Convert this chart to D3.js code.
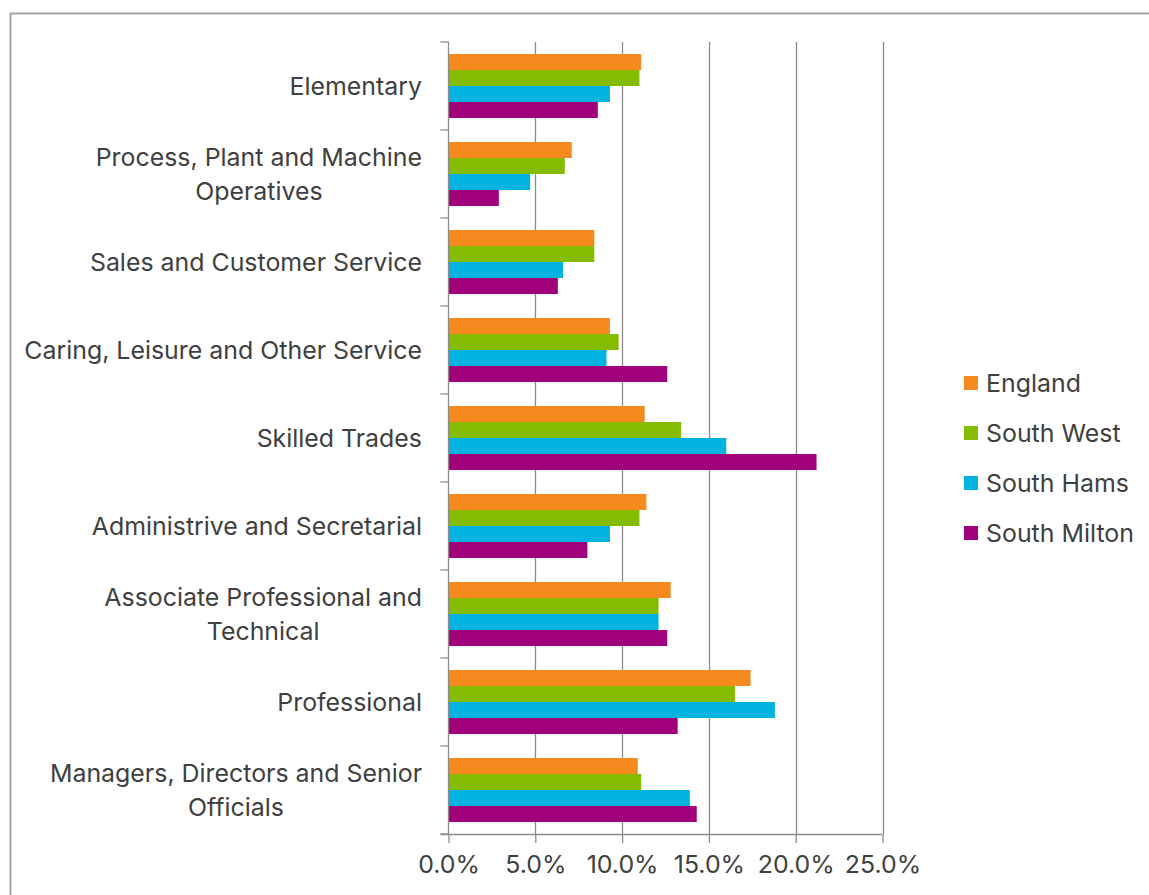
<!DOCTYPE html>
<html>
<head>
<meta charset="utf-8">
<script src="https://cdn.jsdelivr.net/npm/d3@7"></script>
<style>
  html, body { margin: 0; padding: 0; background: #fff; }
  svg { display: block; }
  text { font-family: "Inter", "Open Sans", sans-serif; fill: #404040; font-weight: 400; }
</style>
</head>
<body>
<svg id="chart" width="1149" height="895"></svg>
<script>
const categories = [
  "Elementary",
  "Process, Plant and Machine Operatives",
  "Sales and Customer Service",
  "Caring, Leisure and Other Service",
  "Skilled Trades",
  "Administrive and Secretarial",
  "Associate Professional and Technical",
  "Professional",
  "Managers, Directors and Senior Officials"
];
const categoryLabelLines = [
  ["Elementary"],
  ["Process, Plant and Machine", "Operatives"],
  ["Sales and Customer Service"],
  ["Caring, Leisure and Other Service"],
  ["Skilled Trades"],
  ["Administrive and Secretarial"],
  ["Associate Professional and", "Technical"],
  ["Professional"],
  ["Managers, Directors and Senior", "Officials"]
];
const seriesNames = ["England", "South West", "South Hams", "South Milton"];
const england     = [11.1, 7.1, 8.4, 9.3, 11.3, 11.4, 12.8, 17.4, 10.9];
const southWest   = [11.0, 6.7, 8.4, 9.8, 13.4, 11.0, 12.1, 16.5, 11.1];
const southHams   = [9.3, 4.7, 6.6, 9.1, 16.0, 9.3, 12.1, 18.8, 13.9];
const southMilton = [8.6, 2.9, 6.3, 12.6, 21.2, 8.0, 12.6, 13.2, 14.3];
const xTicks = [0, 5, 10, 15, 20, 25];
const colors = ["#F58A1F", "#86BC00", "#00B3E0", "#A0007A"];

const seriesValues = [england, southWest, southHams, southMilton];

const svg = d3.select("#chart");
const plotLeft = 448.5, plotRight = 882.5, plotTop = 42, plotBottom = 834;

// fit font size so the widest label line matches the reference width
const probe = svg.append("text").attr("font-size", 20).text("Managers, Directors and Senior");
const fontSize = Math.round(20 * 372 / probe.node().getComputedTextLength() * 10) / 10;
probe.remove();

// frame
svg.append("rect").attr("x", 10.5).attr("y", 13.5).attr("width", 1200).attr("height", 1000)
  .attr("fill", "none").attr("stroke", "#a6a6a6").attr("stroke-width", 2);

const x = d3.scaleLinear().domain([0, 25]).range([plotLeft, plotRight]);
const y = d3.scaleBand().domain(categories).range([plotTop, plotBottom]).paddingInner(0).paddingOuter(0);
const inner = d3.scaleBand().domain(seriesNames).range([0, y.bandwidth()]).paddingInner(0).paddingOuter(0.75);

// gridlines
svg.append("g").selectAll("line").data(xTicks.filter(d => d > 0)).join("line")
  .attr("x1", d => Math.round(x(d)) + 0.5).attr("x2", d => Math.round(x(d)) + 0.5)
  .attr("y1", plotTop).attr("y2", plotBottom)
  .attr("stroke", "#8c8c8c").attr("stroke-width", 1.3);

// bars
const groups = svg.append("g").selectAll("g").data(categories).join("g")
  .attr("transform", c => `translate(0,${y(c)})`);
groups.selectAll("rect").data((c, i) => seriesNames.map((s, j) => ({ s, v: seriesValues[j][i], j })))
  .join("rect")
  .attr("x", x(0) + 0.5)
  .attr("y", d => inner(d.s))
  .attr("width", d => x(d.v) - x(0) - 0.5)
  .attr("height", inner.bandwidth())
  .attr("fill", d => colors[d.j]);

// x axis
const xAxis = d3.axisBottom(x).tickValues(xTicks).tickFormat(d => d.toFixed(1) + "%").tickSize(9).tickPadding(12);
const gx = svg.append("g").attr("transform", `translate(0,${plotBottom})`).call(xAxis);
gx.select(".domain").attr("d", `M${plotLeft - 8},0.5H${plotRight}`).attr("stroke", "#8c8c8c").attr("stroke-width", 1.3);
gx.selectAll(".tick line").attr("stroke", "#8c8c8c").attr("stroke-width", 1.3);
gx.selectAll(".tick text").attr("font-size", fontSize).attr("font-family", "Inter, sans-serif").attr("fill", "#404040");

// y axis line and ticks
svg.append("line").attr("x1", plotLeft).attr("x2", plotLeft).attr("y1", plotTop).attr("y2", plotBottom)
  .attr("stroke", "#8c8c8c").attr("stroke-width", 1.3);
const boundaries = categories.map(c => y(c)).concat([plotBottom]);
svg.append("g").selectAll("line").data(boundaries).join("line")
  .attr("x1", plotLeft - 8).attr("x2", plotLeft).attr("y1", d => d).attr("y2", d => d)
  .attr("stroke", "#8c8c8c").attr("stroke-width", 1.3);

// category labels
const lineH = 34;
const labels = svg.append("g").selectAll("text").data(categories).join("text")
  .attr("text-anchor", "end").attr("font-size", fontSize)
  .attr("transform", c => `translate(422,${y(c) + y.bandwidth() / 2})`);
labels.each(function (c, i) {
  const lines = categoryLabelLines[i];
  const t = d3.select(this);
  lines.forEach((l, k) => {
    const dy = (k - (lines.length - 1) / 2) * lineH;
    t.append("tspan").attr("x", 0).attr("y", dy).attr("dy", "0.35em").text(l);
  });
});
// second lines are centered under the first line
labels.each(function (c, i) {
  const lines = categoryLabelLines[i];
  if (lines.length < 2) return;
  const spans = d3.select(this).selectAll("tspan").nodes();
  const w0 = spans[0].getComputedTextLength();
  spans.slice(1).forEach(sp => {
    const w = sp.getComputedTextLength();
    d3.select(sp).attr("x", -(w0 - w) / 2);
  });
});

// legend
const legend = svg.append("g").attr("transform", "translate(964,383)");
const li = legend.selectAll("g").data(seriesNames).join("g")
  .attr("transform", (d, i) => `translate(0,${i * 50})`);
li.append("rect").attr("x", 0).attr("y", -7).attr("width", 14).attr("height", 14)
  .attr("fill", (d, i) => colors[i]);
li.append("text").attr("x", 22).attr("y", 0).attr("dy", "0.35em").attr("font-size", fontSize).text(d => d);
</script>
</body>
</html>
